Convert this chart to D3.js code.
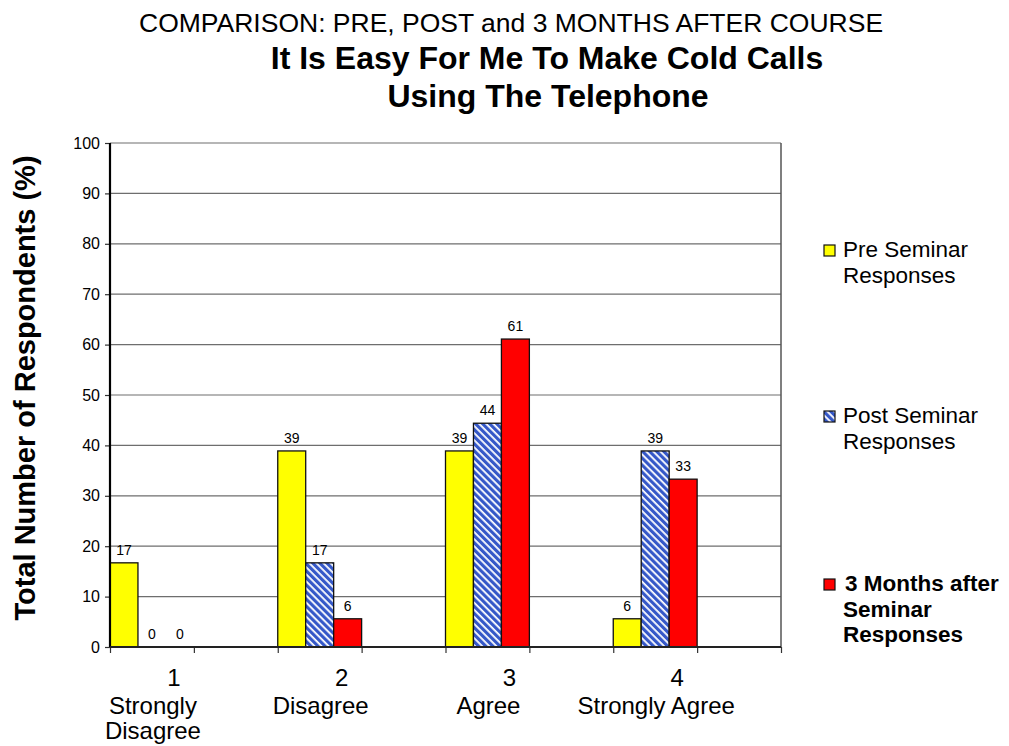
<!DOCTYPE html>
<html><head><meta charset="utf-8">
<script src="https://cdn.jsdelivr.net/npm/d3@7"></script>
<style>
body{margin:0;background:#fff;}
text{font-family:"Liberation Sans",Arial,Helvetica,sans-serif;fill:#000;}
</style>
</head><body>
<svg id="chart" width="1009" height="746"></svg>
<script>
// ---------- data ----------
const categories = ["1", "2", "3", "4"];
const categoryNames = [["Strongly", "Disagree"], ["Disagree"], ["Agree"], ["Strongly Agree"]];
const seriesKeys = ["pre", "post", "three"];
const legendLines = [["Pre Seminar", "Responses"], ["Post Seminar", "Responses"], ["3 Months after", "Seminar", "Responses"]];
const preSeminar = [16.7, 38.9, 38.9, 5.6];
const postSeminar = [0, 16.7, 44.4, 38.9];
const threeMonths = [0, 5.6, 61.1, 33.3];
const yTicks = [0, 10, 20, 30, 40, 50, 60, 70, 80, 90, 100];
const titleLines = ["COMPARISON: PRE,  POST and 3 MONTHS AFTER COURSE", "It Is Easy For Me To Make Cold Calls", "Using The Telephone"];
const yTitle = "Total Number of Respondents (%)";

const seriesValues = [preSeminar, postSeminar, threeMonths];

// ---------- layout ----------
const svg = d3.select("#chart");
const L = 110, R = 781, T = 143, B = 647;

const y = d3.scaleLinear().domain([0, 100]).range([B, T]);
const slots = categories.flatMap(c => [c, c + "_gap"]);
const xs = d3.scaleBand().domain(slots).range([L, R]).padding(0);
const x1 = d3.scaleBand().domain(seriesKeys).range([0, xs.bandwidth()]).padding(0);
const tickScale = d3.scaleLinear().domain([0, slots.length]).range([L, R]);

// pattern for post seminar
const defs = svg.append("defs");
const pat = defs.append("pattern").attr("id", "hatch").attr("patternUnits", "userSpaceOnUse")
  .attr("width", 5).attr("height", 5).attr("patternTransform", "rotate(-45)");
pat.append("rect").attr("width", 5).attr("height", 5).attr("fill", "#ffffff");
pat.append("rect").attr("width", 3.2).attr("height", 5).attr("fill", "#3558c8");

const fills = {pre: "#ffff00", post: "url(#hatch)", three: "#ff0000"};

// gridlines
svg.append("g").selectAll("line").data(yTicks.filter(t => t > 0)).join("line")
  .attr("x1", L).attr("x2", R).attr("y1", d => y(d)).attr("y2", d => y(d))
  .attr("stroke", "#6e6e6e").attr("stroke-width", 1.2);
// right border
svg.append("line").attr("x1", R).attr("x2", R).attr("y1", T).attr("y2", B)
  .attr("stroke", "#555").attr("stroke-width", 1.5);

// bars
const rows = categories.map((c, i) => ({c, vals: seriesKeys.map((k, j) => ({k, v: seriesValues[j][i]}))}));
const groups = svg.append("g").selectAll("g").data(rows).join("g")
  .attr("transform", d => `translate(${xs(d.c)},0)`);
groups.selectAll("rect").data(d => d.vals.filter(e => e.v > 0)).join("rect")
  .attr("x", d => x1(d.k)).attr("width", x1.bandwidth())
  .attr("y", d => y(d.v)).attr("height", d => y(0) - y(d.v))
  .attr("fill", d => fills[d.k]).attr("stroke", "#111").attr("stroke-width", 1.3);
groups.selectAll("text.val").data(d => d.vals).join("text").attr("class", "val")
  .attr("x", d => x1(d.k) + x1.bandwidth() / 2).attr("y", d => y(d.v) - 8)
  .attr("text-anchor", "middle").attr("font-size", 14).text(d => Math.round(d.v));

// y axis
const yAxis = svg.append("g").attr("transform", `translate(${L},0)`)
  .call(d3.axisLeft(y).tickValues(yTicks).tickSize(5).tickPadding(5));
yAxis.select(".domain").remove();
yAxis.selectAll(".tick line").attr("stroke", "#333").attr("stroke-width", 1.2);
yAxis.selectAll(".tick text").attr("font-size", 16).attr("font-family", "Liberation Sans, Arial, sans-serif").attr("fill", "#222");
svg.append("line").attr("x1", L).attr("x2", L).attr("y1", T).attr("y2", B)
  .attr("stroke", "#000").attr("stroke-width", 2.2);

// x axis
const xAxis = svg.append("g").attr("transform", `translate(0,${B})`)
  .call(d3.axisBottom(tickScale).tickValues(d3.range(slots.length + 1)).tickSize(6).tickFormat(""));
xAxis.select(".domain").remove();
xAxis.selectAll(".tick line").attr("stroke", "#333").attr("stroke-width", 1.2);
svg.append("line").attr("x1", L).attr("x2", R).attr("y1", B).attr("y2", B)
  .attr("stroke", "#222").attr("stroke-width", 1.8);

// category labels
const catG = svg.append("g");
categories.forEach((c, i) => {
  const cx = xs(c) + xs.bandwidth() / 2;
  catG.append("text").attr("x", cx + 22).attr("y", 686).attr("text-anchor", "middle")
    .attr("font-size", 24).attr("fill", "#111").text(c);
  categoryNames[i].forEach((ln, j) => {
    catG.append("text").attr("x", cx + 1).attr("y", 714 + j * 25).attr("text-anchor", "middle")
      .attr("font-size", 24).attr("fill", "#111").text(ln);
  });
});

// titles
svg.append("text").attr("x", 139).attr("y", 32).attr("font-size", 26.5).attr("fill", "#111").text(titleLines[0]);
svg.append("text").attr("x", 547).attr("y", 69).attr("text-anchor", "middle").attr("font-size", 32)
  .attr("font-weight", "bold").text(titleLines[1]);
svg.append("text").attr("x", 548).attr("y", 107).attr("text-anchor", "middle").attr("font-size", 32)
  .attr("font-weight", "bold").text(titleLines[2]);

// y title
svg.append("text").attr("transform", "translate(35,388) rotate(-90)").attr("text-anchor", "middle")
  .attr("font-size", 29).attr("font-weight", "bold").attr("fill", "#111").text(yTitle);

// legend
const legendBase = [257, 423, 591];
const leg = svg.append("g");
seriesKeys.forEach((k, i) => {
  const by = legendBase[i];
  leg.append("rect").attr("x", 824).attr("y", by - 12).attr("width", 11).attr("height", 11)
    .attr("fill", fills[k]).attr("stroke", "#111").attr("stroke-width", 1.2);
  legendLines[i].forEach((ln, j) => {
    leg.append("text").attr("x", i === 2 && j === 0 ? 845 : 843).attr("y", by + j * 25.5)
      .attr("font-size", 22.5).attr("font-weight", i === 2 ? "bold" : "normal")
      .attr("fill", "#222").text(ln);
  });
});
</script>
</body></html>
